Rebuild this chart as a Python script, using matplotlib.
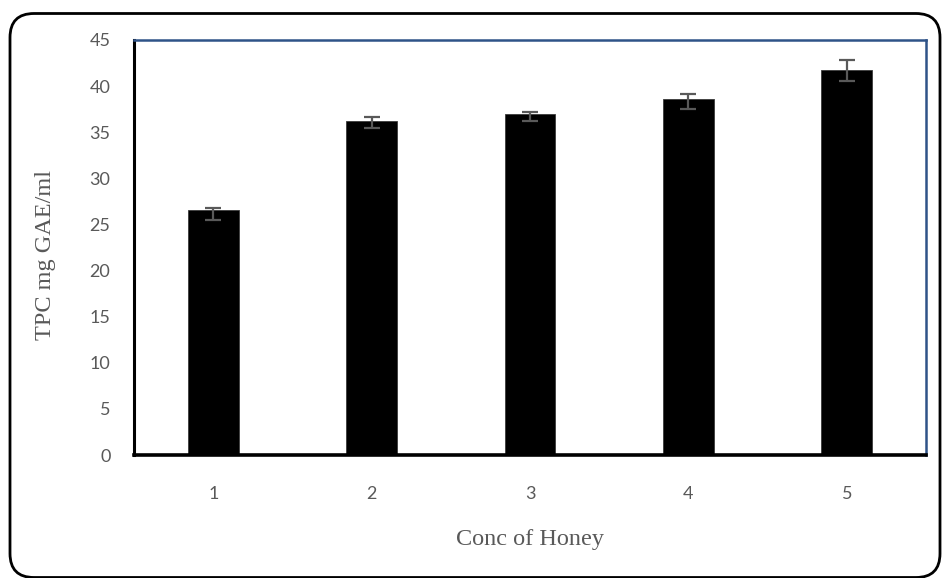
import matplotlib
matplotlib.use("Agg")
import matplotlib.pyplot as plt
from matplotlib.patches import FancyBboxPatch
import numpy as np

# values
conc = ["1", "2", "3", "4", "5"]
tpc = [26.6, 36.2, 37.0, 38.6, 41.7]
err_low = [1.1, 0.7, 0.8, 1.1, 1.1]
err_high = [0.15, 0.5, 0.15, 0.55, 1.1]

INK = "#595959"
BLUE = "#2F5388"

fig = plt.figure(figsize=(9.42, 5.78), dpi=100, facecolor="white")
ax = fig.add_axes([0.1423, 0.2128, 0.983 - 0.1423, 0.9308 - 0.2128])

x = np.arange(len(conc))
ax.bar(x, tpc, width=0.32, color="black", edgecolor="#3a3a3a", linewidth=0.6, zorder=2)
ax.errorbar(x, tpc, yerr=[err_low, err_high], fmt="none", ecolor=INK,
            elinewidth=1.6, capsize=5.5, capthick=1.6, zorder=3)

ax.set_xlim(-0.5, len(conc) - 0.5)
ax.set_ylim(0, 45)
ax.set_yticks(range(0, 50, 5))
ax.set_xticks(x)
ax.set_xticklabels(conc)
ax.tick_params(axis="y", length=0, pad=17, labelsize=13, labelcolor=INK)
ax.tick_params(axis="x", length=0, pad=22, labelsize=13, labelcolor=INK)
for lab in ax.get_xticklabels() + ax.get_yticklabels():
    lab.set_fontfamily("Lato")

ax.spines["left"].set_color("black")
ax.spines["left"].set_linewidth(2.2)
ax.spines["bottom"].set_color("black")
ax.spines["bottom"].set_linewidth(2.6)
ax.spines["top"].set_color(BLUE)
ax.spines["top"].set_linewidth(1.8)
ax.spines["right"].set_color(BLUE)
ax.spines["right"].set_linewidth(1.8)

fig.text(46 / 942, 1 - 255 / 578, "TPC mg GAE/ml", rotation=90, ha="center", va="center",
         fontsize=17.5, family="Liberation Serif", color=INK)
fig.text(530 / 942, 1 - 540 / 578, "Conc of Honey", ha="center", va="center",
         fontsize=17.5, family="Liberation Serif", color=INK)

# rounded outer frame
frame = FancyBboxPatch((0.10, 0.005), 9.30, 5.64,
                       boxstyle="round,pad=0,rounding_size=0.24",
                       transform=fig.dpi_scale_trans, fill=False,
                       edgecolor="black", linewidth=2.0, clip_on=False)
fig.patches.append(frame)

fig.savefig("out.png", dpi=100, facecolor="white")
